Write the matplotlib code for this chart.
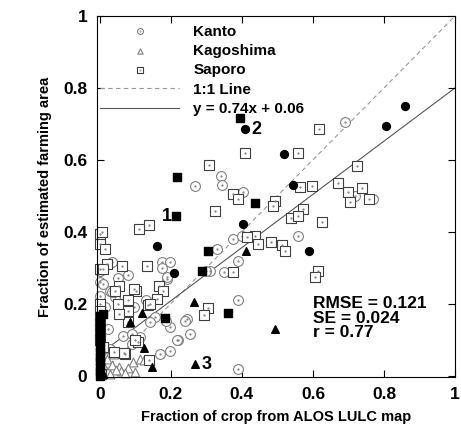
import matplotlib
matplotlib.use("Agg")
import matplotlib.pyplot as plt
from matplotlib.legend_handler import HandlerTuple
from matplotlib.lines import Line2D

plt.rcParams['font.family'] = ['Liberation Sans', 'DejaVu Sans']
plt.rcParams['font.weight'] = 'bold'

# ------------------------------------------------------------
# Data
# ------------------------------------------------------------
kanto_x = [0.69, 0.268, 0.341, 0.344, 0.403, 0.718, 0.769, 0.558, 0.375, 0.40,
           0.33, 0.31, 0.389, 0.349, 0.389, 0.245, 0.254, 0.389, 0.034, 0.175,
           0.197, 0.175, 0.19, 0.30, 0.0, 0.028, 0.042, 0.0, 0.155, 0.197,
           0.239, 0.22, 0.169, 0.197, 0.065, 0.113, 0.09, 0.099, 0.09, 0.023,
           0.028, 0.096, 0.068, 0.141, 0.189, 0.01, 0.0, 0.034, 0.185, 0.217,
           0.08, 0.05, 0.13, 0.015]
kanto_y = [0.706, 0.526, 0.554, 0.529, 0.51, 0.499, 0.49, 0.388, 0.38, 0.388,
           0.352, 0.291, 0.319, 0.288, 0.21, 0.158, 0.116, 0.019, 0.316, 0.316,
           0.316, 0.298, 0.269, 0.29, 0.26, 0.235, 0.219, 0.22, 0.163, 0.136,
           0.152, 0.1, 0.061, 0.069, 0.11, 0.108, 0.089, 0.1, 0.116, 0.13,
           0.075, 0.19, 0.172, 0.15, 0.274, 0.255, 0.29, 0.233, 0.152, 0.1,
           0.28, 0.27, 0.21, 0.19]

kago_x = [0.02, 0.034, 0.054, 0.093, 0.113, 0.124, 0.06, 0.08, 0.0, 0.0,
          0.01, 0.045, 0.07, 0.03, 0.1, 0.013, 0.0, 0.04]
kago_y = [0.047, 0.028, 0.025, 0.039, 0.047, 0.042, 0.012, 0.02, 0.06, 0.1,
          0.03, 0.015, 0.008, 0.005, 0.01, 0.075, 0.135, 0.06]

sap_x = [0.617, 0.558, 0.408, 0.307, 0.724, 0.563, 0.597, 0.67, 0.698, 0.738,
         0.704, 0.758, 0.625, 0.572, 0.493, 0.487, 0.538, 0.558, 0.375, 0.389,
         0.324, 0.138, 0.11, 0.0, 0.0, 0.005, 0.437, 0.414, 0.445, 0.482,
         0.513, 0.521, 0.375, 0.304, 0.293, 0.0, 0.02, 0.062, 0.132, 0.101,
         0.054, 0.042, 0.166, 0.177, 0.08, 0.08, 0.08, 0.05, 0.054, 0.135,
         0.16, 0.107, 0.07, 0.068, 0.614, 0.606, 0.0, 0.0, 0.0, 0.0,
         0.0, 0.01, 0.1, 0.014, 0.096, 0.141, 0.039, 0.138, 0.01, 0.004]
sap_y = [0.687, 0.620, 0.620, 0.587, 0.584, 0.524, 0.527, 0.535, 0.51, 0.521,
         0.482, 0.49, 0.427, 0.463, 0.485, 0.471, 0.438, 0.443, 0.504, 0.49,
         0.457, 0.418, 0.407, 0.393, 0.366, 0.40, 0.388, 0.385, 0.366, 0.371,
         0.363, 0.346, 0.288, 0.188, 0.169, 0.296, 0.31, 0.305, 0.305, 0.235,
         0.25, 0.235, 0.25, 0.235, 0.21, 0.18, 0.15, 0.2, 0.172, 0.197,
         0.213, 0.094, 0.061, 0.064, 0.291, 0.274, 0.2, 0.18, 0.15, 0.12,
         0.1, 0.08, 0.1, 0.352, 0.24, 0.2, 0.066, 0.044, 0.296, 0.005]

# filled (highlighted) samples
fcirc_x = [0.86, 0.806, 0.518, 0.544, 0.408, 0.403, 0.16, 0.208, 0.589, 0.0, 0.0]
fcirc_y = [0.751, 0.695, 0.615, 0.529, 0.687, 0.421, 0.36, 0.285, 0.346, 0.11, 0.04]
fsq_x = [0.394, 0.217, 0.214, 0.437, 0.304, 0.287, 0.183, 0.36, 0.01,
         0.0, 0.0, 0.0, 0.0, 0.0, 0.0, 0.0, 0.0, 0.0, 0.0, 0.0, 0.0, 0.0]
fsq_y = [0.717, 0.551, 0.443, 0.479, 0.346, 0.291, 0.161, 0.175, 0.172,
         0.0, 0.012, 0.025, 0.04, 0.052, 0.065, 0.08, 0.092, 0.105, 0.12,
         0.135, 0.15, 0.165]
ftri_x = [0.411, 0.265, 0.493, 0.268, 0.118, 0.085, 0.124, 0.146, 0.0, 0.0, 0.008]
ftri_y = [0.346, 0.205, 0.130, 0.033, 0.175, 0.15, 0.078, 0.025, 0.02, 0.07, 0.005]

# numbered samples
num_labels = ['1', '2', '3']
num_x = [0.19, 0.44, 0.30]
num_y = [0.443, 0.685, 0.03]

slope, intercept = 0.74, 0.06
line_x = [0.0, 1.0]
stats_text = "RMSE = 0.121\nSE = 0.024\nr = 0.77"

# ------------------------------------------------------------
# Plot
# ------------------------------------------------------------
fig = plt.figure(figsize=(4.61, 4.37), dpi=100)
ax = fig.add_axes([0.2104, 0.1373, 0.7766, 0.826])

ax.plot(line_x, line_x, ls=(0, (4, 3)), color='#999999', lw=0.8, zorder=1)
ax.plot(line_x, [slope * v + intercept for v in line_x], color='#555555', lw=0.8, zorder=1)

k = ax.scatter(kanto_x, kanto_y, s=50, facecolors='white', edgecolors='#808080',
               linewidths=0.8, marker='o', zorder=2, clip_on=False)
kd = ax.scatter(kanto_x, kanto_y, s=1.5, color='#808080', marker='.', zorder=2, clip_on=False)
t = ax.scatter(kago_x, kago_y, s=40, facecolors='white', edgecolors='#808080',
               linewidths=0.8, marker='^', zorder=2, clip_on=False)
q = ax.scatter(sap_x, sap_y, s=60, facecolors='white', edgecolors='#404040',
               linewidths=0.8, marker='s', zorder=2, clip_on=False)
qd = ax.scatter(sap_x, sap_y, s=1.5, color='#808080', marker='.', zorder=2, clip_on=False)

ax.scatter(fcirc_x, fcirc_y, s=32, color='black', marker='o', zorder=3, clip_on=False)
ax.scatter(fsq_x, fsq_y, s=40, color='black', marker='s', zorder=3, clip_on=False)
ax.scatter(ftri_x, ftri_y, s=30, color='black', marker='^', zorder=3, clip_on=False)

for lab, xx, yy in zip(num_labels, num_x, num_y):
    ax.text(xx, yy, lab, fontsize=13, fontweight='bold', ha='center', va='center')

ax.text(0.6, 0.16, stats_text, fontsize=12.5, fontweight='bold', ha='left', va='center',
        linespacing=0.95)

ax.set_xlim(-0.008, 1.0)
ax.set_ylim(-0.004, 1.0)
ticks = [0, 0.2, 0.4, 0.6, 0.8, 1.0]
tick_labels = ['0', '0.2', '0.4', '0.6', '0.8', '1']
ax.set_xticks(ticks)
ax.set_xticklabels(tick_labels)
ax.set_yticks(ticks)
ax.set_yticklabels(tick_labels)
ax.tick_params(direction='in', length=5, width=0.8, top=True, right=True,
               labelsize=12.5, pad=7)
for lbl in ax.get_xticklabels() + ax.get_yticklabels():
    lbl.set_fontweight('bold')
for sp in ax.spines.values():
    sp.set_linewidth(0.8)

ax.set_xlabel('Fraction of crop from ALOS LULC map', fontsize=10.5, fontweight='bold', labelpad=6)
ax.set_ylabel('Fraction of estimated farming area', fontsize=10.5, fontweight='bold', labelpad=8)

h_dash = Line2D([], [], ls=(0, (4, 3)), color='#999999', lw=0.8)
h_reg = Line2D([], [], color='#555555', lw=0.8)
ax.legend([(k, kd), t, (q, qd), h_dash, h_reg],
          ['Kanto', 'Kagoshima', 'Saporo', '1:1 Line', 'y = 0.74x + 0.06'],
          handler_map={tuple: HandlerTuple(ndivide=1, pad=0)},
          loc='upper left', bbox_to_anchor=(0.0, 0.985), frameon=False,
          handlelength=5.2, handletextpad=0.9, labelspacing=0.35, borderpad=0.2,
          borderaxespad=0.0, prop={'weight': 'bold', 'size': 11}, markerscale=0.6)

fig.savefig('out.png', dpi=100)
